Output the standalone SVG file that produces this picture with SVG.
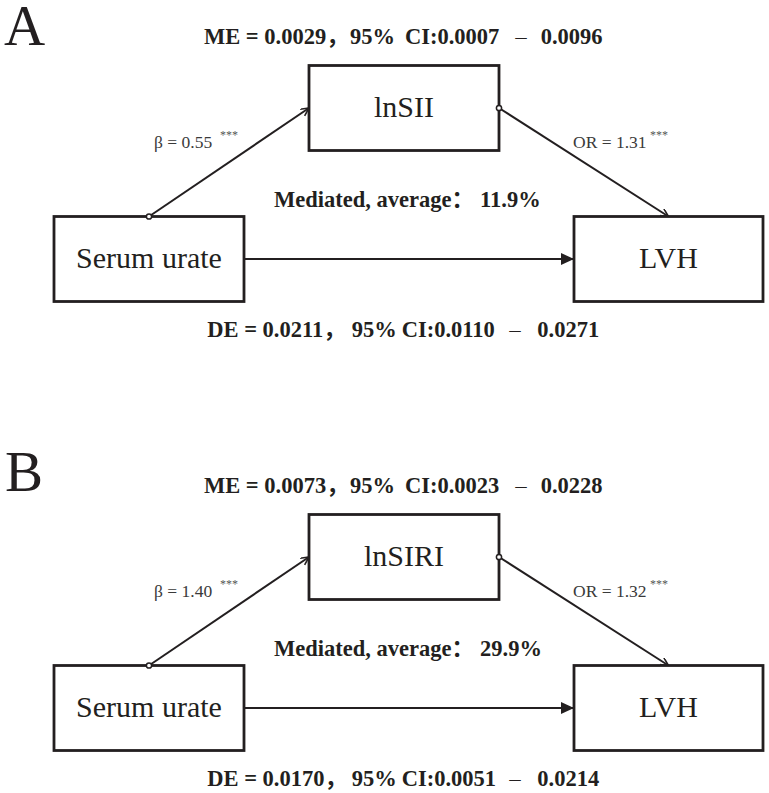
<svg xmlns="http://www.w3.org/2000/svg" width="769" height="793" viewBox="0 0 769 793">
<style>
.bg{fill:#ffffff}
.box{fill:#ffffff;stroke:#231f20;stroke-width:2.8}
.conn{stroke:#231f20;stroke-width:2;fill:none}
.dot{fill:#ffffff;stroke:#231f20;stroke-width:1.5}
.node{font-family:"Liberation Serif","Times New Roman",serif;font-size:30px;fill:#231f20;text-anchor:middle}
.panel{font-family:"Liberation Serif","Times New Roman",serif;font-size:57px;fill:#231f20}
.stat{font-family:"Liberation Serif","Noto Sans CJK SC",serif;font-size:22.5px;font-weight:bold;fill:#231f20}
.dash{font-size:16px;font-weight:normal}
.coef{font-family:"Liberation Serif","Times New Roman",serif;font-size:17.5px;fill:#3a3a3a}
.star{font-family:"Liberation Serif","Times New Roman",serif;font-size:12px;fill:#555555}
</style>
<defs>
<marker id="vee" markerUnits="userSpaceOnUse" markerWidth="12" markerHeight="12" refX="8" refY="4" orient="auto">
<path d="M0,0 L8,4 L0,8" fill="none" stroke="#231f20" stroke-width="1.6"/>
</marker>
<marker id="tri" markerUnits="userSpaceOnUse" markerWidth="14" markerHeight="14" refX="13" refY="6" orient="auto">
<path d="M0,0 L13,6 L0,12 Z" fill="#231f20"/>
</marker>
</defs>
<rect class="bg" x="0" y="0" width="769" height="793"/>

<g id="panelA">
<text class="panel" x="4" y="45">A</text>
<text class="stat" y="44"><tspan x="204">ME = 0.0029，</tspan><tspan x="350">95%</tspan><tspan x="405">CI:0.0007</tspan><tspan class="dash" x="513">－</tspan><tspan x="540.7">0.0096</tspan></text>
<text class="stat" y="207"><tspan x="274">Mediated, average：</tspan><tspan x="480">11.9%</tspan></text>
<text class="stat" y="336.7"><tspan x="207.3">DE = 0.0211，</tspan><tspan x="351.7">95%</tspan><tspan x="401.7">CI:0.0110</tspan><tspan class="dash" x="507">－</tspan><tspan x="537.3">0.0271</tspan></text>
<g id="A-connectors">
<line class="conn" x1="149" y1="216.5" x2="309" y2="108" marker-end="url(#vee)"/>
<line class="conn" x1="499" y1="108" x2="668.5" y2="216.5" marker-end="url(#vee)"/>
<line class="conn" x1="244" y1="259" x2="574" y2="259" marker-end="url(#tri)"/>
<text class="coef" x="154" y="147.7">β = 0.55</text><text class="star" x="220" y="138.5">***</text>
<text class="coef" x="573" y="147.7">OR = 1.31</text><text class="star" x="650" y="138.5">***</text>
</g>
<g id="A-lnSII"><rect class="box" x="309" y="65.5" width="190" height="85"/><text class="node" x="404" y="117">lnSII</text></g>
<g id="A-serum"><rect class="box" x="54" y="216.5" width="190" height="85"/><text class="node" x="149" y="268">Serum urate</text></g>
<g id="A-LVH"><rect class="box" x="574" y="216.5" width="189" height="85"/><text class="node" x="668.5" y="268">LVH</text></g>
<circle class="dot" cx="149" cy="216.5" r="2.6"/>
<circle class="dot" cx="499" cy="108" r="2.6"/>
</g>

<g id="panelB">
<text class="panel" x="5" y="491">B</text>
<g transform="translate(0,449)">
<text class="stat" y="44"><tspan x="204">ME = 0.0073，</tspan><tspan x="350">95%</tspan><tspan x="405">CI:0.0023</tspan><tspan class="dash" x="513">－</tspan><tspan x="540.7">0.0228</tspan></text>
<text class="stat" y="207"><tspan x="274">Mediated, average：</tspan><tspan x="480">29.9%</tspan></text>
<text class="stat" y="336.7"><tspan x="207.3">DE = 0.0170，</tspan><tspan x="351.7">95%</tspan><tspan x="401.7">CI:0.0051</tspan><tspan class="dash" x="507">－</tspan><tspan x="537.3">0.0214</tspan></text>
<g id="B-connectors">
<line class="conn" x1="149" y1="216.5" x2="309" y2="108" marker-end="url(#vee)"/>
<line class="conn" x1="499" y1="108" x2="668.5" y2="216.5" marker-end="url(#vee)"/>
<line class="conn" x1="244" y1="259" x2="574" y2="259" marker-end="url(#tri)"/>
<text class="coef" x="154" y="147.7">β = 1.40</text><text class="star" x="220" y="138.5">***</text>
<text class="coef" x="573" y="147.7">OR = 1.32</text><text class="star" x="650" y="138.5">***</text>
</g>
<g id="B-lnSIRI"><rect class="box" x="309" y="65.5" width="190" height="85"/><text class="node" x="404" y="117">lnSIRI</text></g>
<g id="B-serum"><rect class="box" x="54" y="216.5" width="190" height="85"/><text class="node" x="149" y="268">Serum urate</text></g>
<g id="B-LVH"><rect class="box" x="574" y="216.5" width="189" height="85"/><text class="node" x="668.5" y="268">LVH</text></g>
<circle class="dot" cx="149" cy="216.5" r="2.6"/>
<circle class="dot" cx="499" cy="108" r="2.6"/>
</g>
</g>
</svg>
